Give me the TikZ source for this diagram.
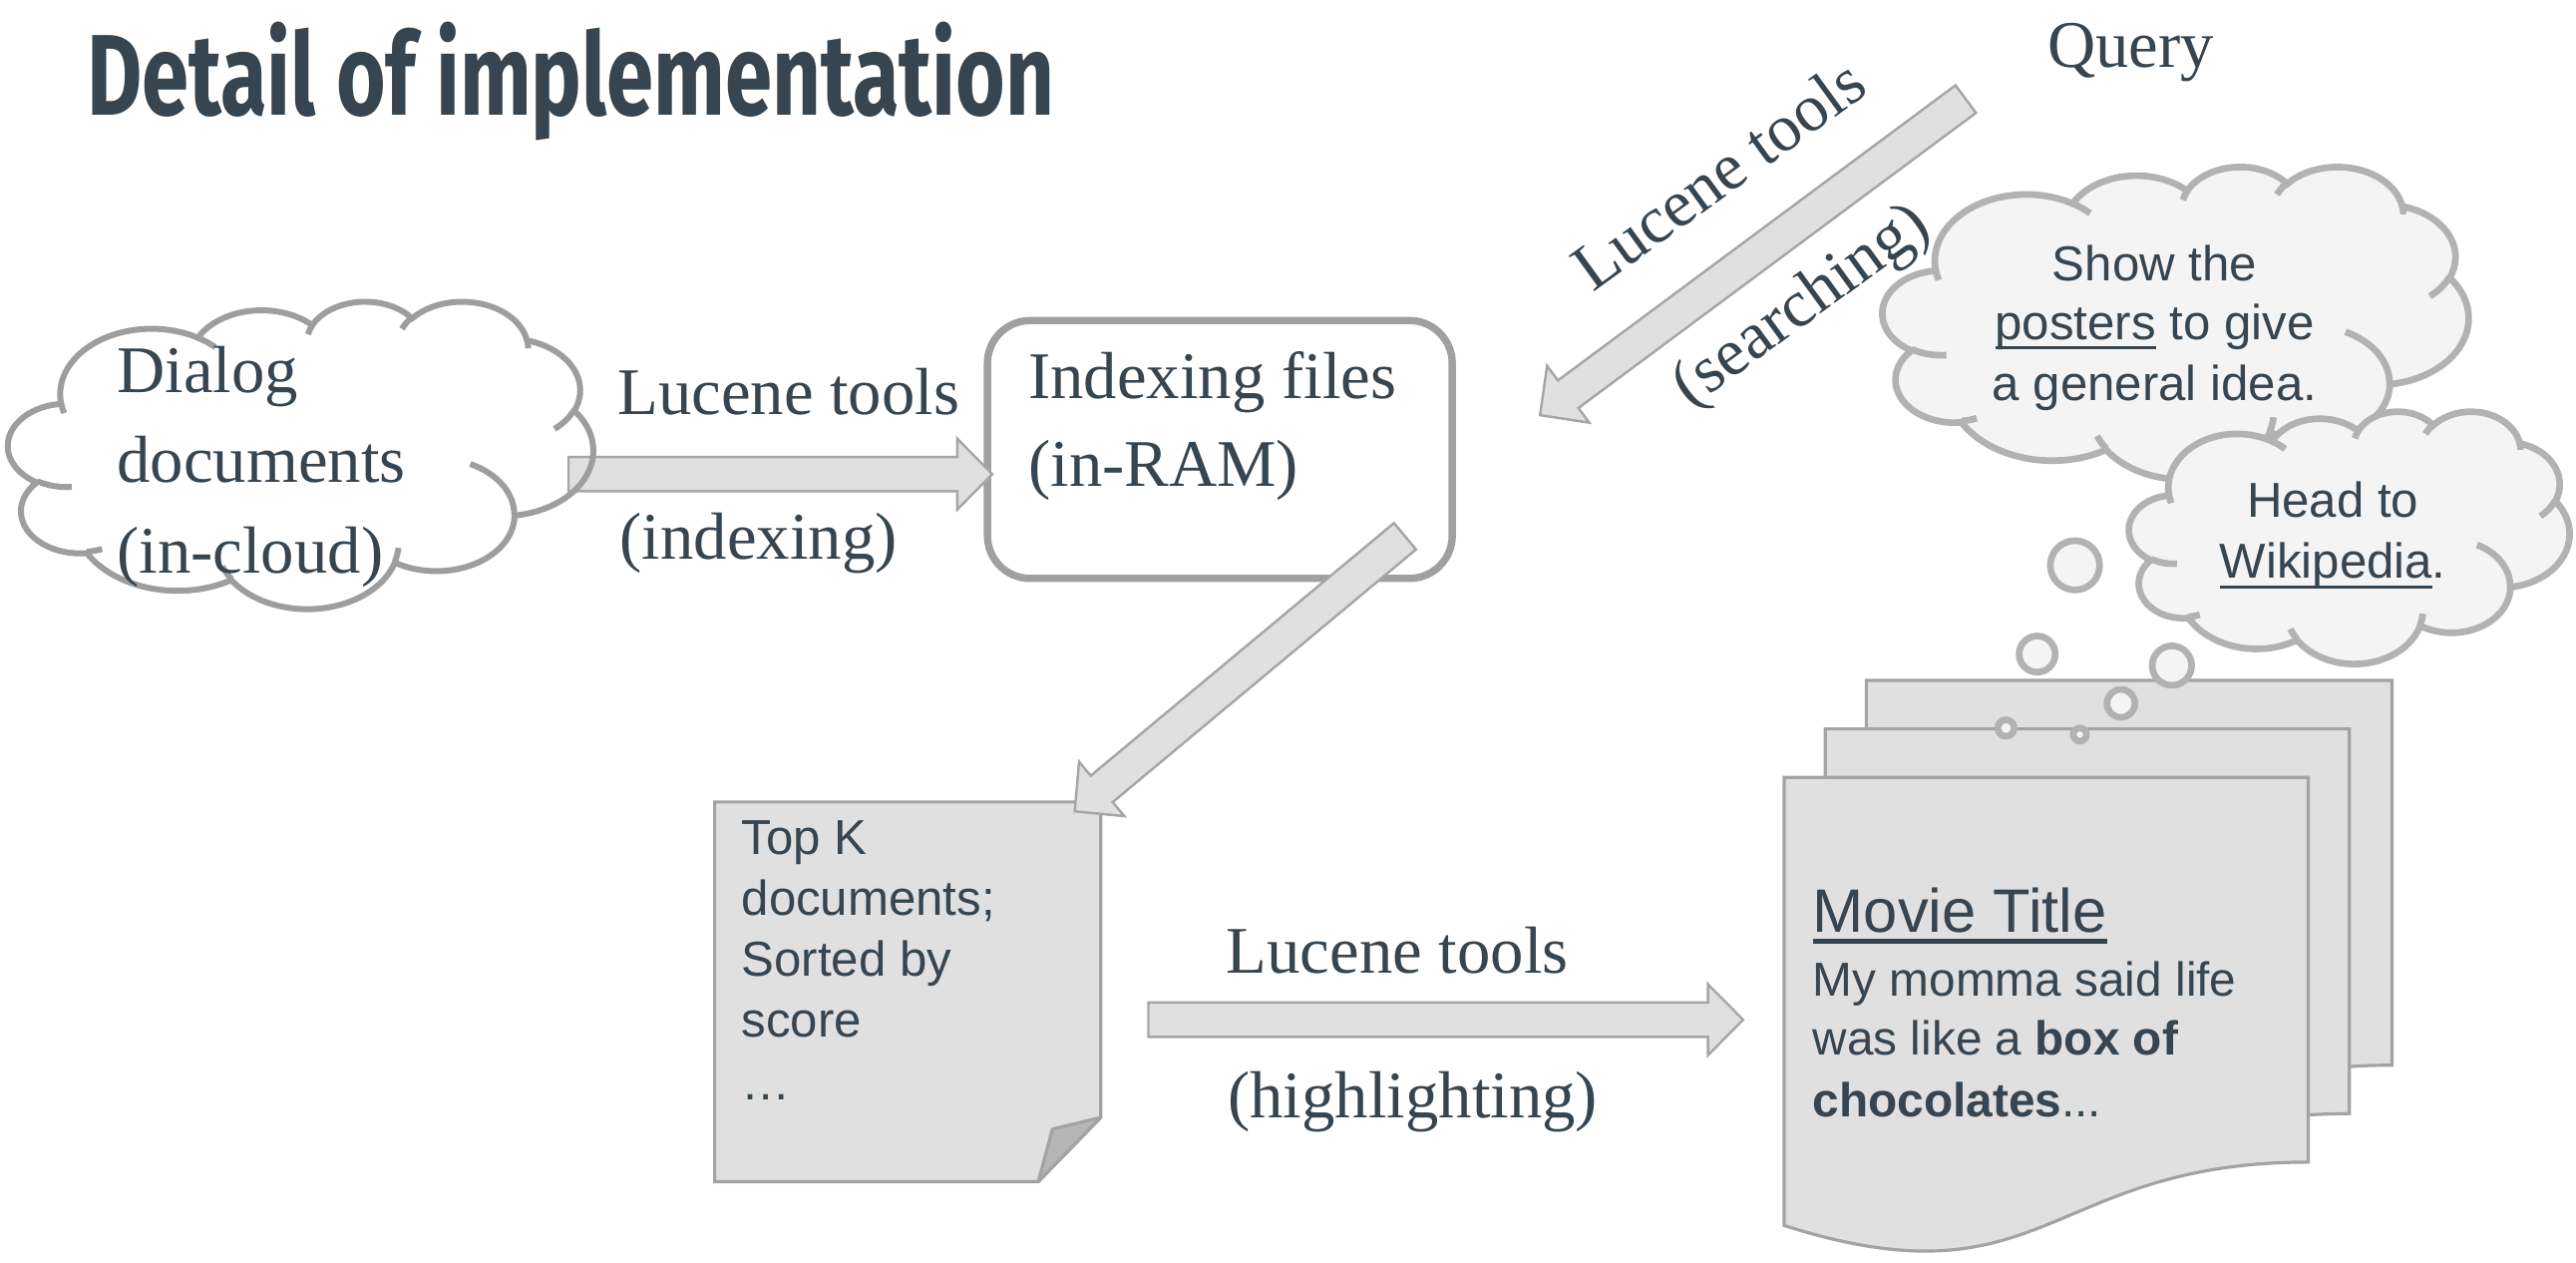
\documentclass[tikz,border=0pt]{standalone}
\usepackage{fontspec}
\usepackage{graphicx}
\usetikzlibrary{calc}
\setmainfont{Liberation Serif}
\newfontfamily\arialf{Liberation Sans}
\newfontfamily\titlef{Fira Sans}
\definecolor{txt}{HTML}{36454F}
\definecolor{arrfill}{HTML}{E0E0E0}
\definecolor{arrdraw}{HTML}{A6A6A6}
\definecolor{cloudl}{HTML}{9E9E9E}
\definecolor{cloudr}{HTML}{B2B2B2}
\definecolor{cloudfill}{HTML}{F4F4F4}
\definecolor{pagefill}{HTML}{E0E0E0}
\definecolor{pagedraw}{HTML}{A3A3A3}
\definecolor{boxdraw}{HTML}{A0A0A0}
\definecolor{foldfill}{HTML}{B5B5B5}

% PowerPoint cloud geometry (path box 432 x 432), visual angles -> parametric
\newcommand\cladd[5]{%
  \pgfmathsetmacro\clA{atan2((#2)*sin(#4),(#3)*cos(#4))}%
  \pgfmathsetmacro\clB{atan2((#2)*sin((#4)+(#5)),(#3)*cos((#4)+(#5)))}%
  \pgfmathsetmacro\clD{mod(\clB-\clA+720,360)}%
  \xdef#1{#1 arc[x radius=#2,y radius=#3,start angle=\clA,delta angle=\clD]}}
\newcommand\clmove[3]{\xdef#1{#1 (#2,#3)}}

\def\cloudout{(39.00,143.70)}
\cladd\cloudout{67.53}{91.90}{-190.4875}{123.7805}
\cladd\cloudout{53.33}{72.67}{-144.1024}{89.9452}
\cladd\cloudout{43.65}{59.45}{-145.8079}{99.7230}
\cladd\cloudout{48.57}{65.95}{-130.9861}{117.2417}
\cladd\cloudout{53.33}{72.73}{-78.7089}{109.0269}
\cladd\cloudout{67.75}{92.20}{-46.2673}{130.2690}
\cladd\cloudout{57.85}{78.67}{0.6250}{114.0333}
\cladd\cloudout{67.52}{92.15}{22.4516}{115.1726}
\cladd\cloudout{77.20}{105.43}{66.2426}{75.7110}
\cladd\cloudout{43.60}{59.18}{-274.9421}{146.7356}
\cladd\cloudout{43.45}{59.45}{-246.8285}{152.5189}

\def\cloudin{}
\clmove\cloudin{46.93}{261.77}\cladd\cloudin{43.45}{59.45}{86.7420}{26.4295}
\clmove\cloudin{69.28}{348.99}\cladd\cloudin{43.60}{59.18}{73.6105}{11.4475}
\clmove\cloudin{164.78}{390.90}\cladd\cloudin{67.52}{92.15}{137.6242}{14.0811}
\clmove\cloudin{288.27}{347.51}\cladd\cloudin{67.52}{92.15}{6.4533}{15.9984}
\clmove\cloudin{341.29}{229.54}\cladd\cloudin{57.85}{78.67}{-70.2924}{70.9174}
\clmove\cloudin{417.98}{153.54}\cladd\cloudin{53.33}{72.73}{30.3180}{27.7515}
\clmove\cloudin{383.24}{54.26}\cladd\cloudin{48.57}{65.95}{-13.7443}{14.8589}
\clmove\cloudin{290.78}{39.52}\cladd\cloudin{48.57}{65.95}{-149.1815}{18.1954}
\clmove\cloudin{221.41}{47.20}\cladd\cloudin{43.65}{59.45}{-163.4943}{17.6864}
\clmove\cloudin{140.00}{51.92}\cladd\cloudin{67.53}{91.90}{-66.7070}{12.3194}
\clmove\cloudin{41.27}{157.89}\cladd\cloudin{67.53}{91.90}{157.6544}{11.8582}

\newcommand\drawcloud[5]{%
  \begin{scope}[shift={(#1,#2)},xscale=#3/432,yscale=#4/432]
    \edef\cltmp{\noexpand\filldraw[#5] \cloudout -- cycle; \noexpand\draw[#5,fill=none] \cloudin;}\cltmp
  \end{scope}}

\newcommand\docpage[4]{%
  \begin{scope}[shift={(#1,#2)},xscale=#3,yscale=#4]
    \filldraw[pagesty] (0,0) -- (1,0) -- (1,0.8019) .. controls (0.5,0.8019) and (0.5,1.1075) .. (0,0.9339) -- cycle;
  \end{scope}}

\newcommand\blockarrow[2]{%
  \coordinate (bh) at ($(#2)!10pt!(#1)$);
  \filldraw[barrow] ($(#1)!4.9pt!90:(#2)$) -- ($(bh)!4.9pt!-90:(#1)$) -- ($(bh)!10.1pt!-90:(#1)$) -- (#2)
    -- ($(bh)!10.1pt!90:(#1)$) -- ($(bh)!4.9pt!90:(#1)$) -- ($(#1)!4.9pt!-90:(#2)$) -- cycle;}

\newcommand\ulin[3]{\setbox0=\hbox{#1}\rlap{\rule[#2]{\wd0}{#3}}\box0\relax}

\begin{document}
\begin{tikzpicture}[x=0.016473cm,y=-0.016473cm,
  lbl/.style={anchor=base west,inner sep=0,text=txt,font=\fontsize{19}{23}\selectfont},
  rlbl/.style={anchor=base,inner sep=0,text=txt,rotate=36,font=\fontsize{19}{23}\selectfont},
  sans/.style={anchor=base west,inner sep=0,text=txt,font=\arialf\fontsize{14}{17}\selectfont},
  sansc/.style={anchor=base,inner sep=0,text=txt,font=\arialf\fontsize{14}{17}\selectfont},
  barrow/.style={fill=arrfill,draw=arrdraw,line width=0.7pt,line join=miter},
  pagesty/.style={fill=pagefill,draw=pagedraw,line width=0.9pt},
  cl1/.style={draw=cloudl,line width=1.7pt,fill=none},
  clr/.style={draw=cloudr,line width=1.9pt,fill=cloudfill},
  bub/.style={draw=cloudr,line width=1.9pt,fill=cloudfill}]
\useasboundingbox (0,0) rectangle (1568,768.5);
\fill[white] (0,0) rectangle (1568,768.5);

% title
\node[anchor=base west,inner sep=0,text=txt] (title) at (52.4,70.4)
  {\resizebox{276.1pt}{26.6pt}{\titlef\bfseries Detail of implementation}};

% arrow end points
\coordinate (a1t) at (346,288.5);   \coordinate (a1h) at (604,288.5);
\coordinate (a2t) at (1196.5,60.3); \coordinate (a2h) at (937.4,252.6);
\coordinate (a3t) at (855.2,326.3); \coordinate (a3h) at (654.2,493.7);
\coordinate (a4t) at (699,620.5);   \coordinate (a4h) at (1061,620.5);

% indexing box
\node[draw=boxdraw,line width=2.1pt,rounded corners=12.2pt,minimum width=4.662cm,
  minimum height=2.586cm,inner sep=0] (idx) at (742.5,273.5) {};

% Top K page with folded corner
\filldraw[fill=pagefill,draw=pagedraw,line width=0.9pt] (435,488) -- (670,488) -- (670,680)
  -- (632,719) -- (435,719) -- cycle;
\filldraw[fill=foldfill,draw=pagedraw,line width=0.9pt,line join=round] (670,680) -- (640.6,687)
  -- (632,719) -- cycle;

% stacked movie pages
\docpage{1136}{414}{320}{292}
\docpage{1111}{443.5}{319}{292}
\docpage{1086}{473}{319}{292}

% thought clouds
\drawcloud{1146}{101}{356.5}{190}{clr}
\drawcloud{1296}{250}{268}{153.5}{clr}

% bubbles
\filldraw[bub] (1263,344) circle[radius=15];
\filldraw[bub] (1240,398) circle[radius=11];
\filldraw[bub] (1322,405) circle[radius=12];
\filldraw[bub] (1291,428) circle[radius=8.5];
\filldraw[bub] (1221,443) circle[radius=5];
\filldraw[bub] (1266,447) circle[radius=4];

% block arrows
\blockarrow{a1t}{a1h}
\blockarrow{a2t}{a2h}
\blockarrow{a3t}{a3h}
\blockarrow{a4t}{a4h}

% source cloud (outline drawn over arrow tail)
\drawcloud{5}{183}{356}{187}{cl1}

% texts
\node[lbl] (query) at (1246,41) {Query};
\node[lbl] (l1a) at (375.5,252) {Lucene tools};
\node[lbl] (l1b) at (377,340.5) {(indexing)};
\node[lbl] (c1a) at (70.8,238.8) {Dialog};
\node[lbl] (c1b) at (70.8,293.8) {documents};
\node[lbl] (c1c) at (70.8,349) {(in-cloud)};
\node[lbl] (ia) at (625.6,242.8) {Indexing files};
\node[lbl] (ib) at (625.6,296.2) {(in-RAM)};
\node[rlbl] (l2a) at (1054,117) {Lucene tools};
\node[rlbl] (l2b) at (1103,195) {(searching)};
\node[lbl] (l3a) at (746,592) {Lucene tools};
\node[lbl] (l3b) at (747,680) {(highlighting)};

\node[sans] (k1) at (451,520) {Top K};
\node[sans] (k2) at (451,557) {documents;};
\node[sans] (k3) at (451,594) {Sorted by};
\node[sans] (k4) at (451,631) {score};
\node[sans] (k5) at (451,669) {…};

\node[sans,font=\arialf\fontsize{17.5}{21}\selectfont] (mt) at (1103,567) {\ulin{Movie Title}{-3.3pt}{1.3pt}};
\node[sans,font=\arialf\fontsize{13.6}{17}\selectfont] (m1) at (1103,606) {My momma said life};
\node[sans,font=\arialf\fontsize{13.6}{17}\selectfont] (m2) at (1103,642) {was like a \textbf{box of}};
\node[sans,font=\arialf\fontsize{13.6}{17}\selectfont] (m3) at (1103,679.5) {\textbf{chocolates}...};

\node[sansc] (s1) at (1311.5,171) {Show the};
\node[sansc] (s2) at (1311.5,207) {\ulin{posters}{-2.6pt}{0.8pt} to give};
\node[sansc] (s3) at (1311.5,244) {a general idea.};
\node[sansc] (w1) at (1420,315) {Head to};
\node[sansc] (w2) at (1420,352) {\ulin{Wikipedia}{-2.9pt}{0.9pt}.};
\end{tikzpicture}
\end{document}
